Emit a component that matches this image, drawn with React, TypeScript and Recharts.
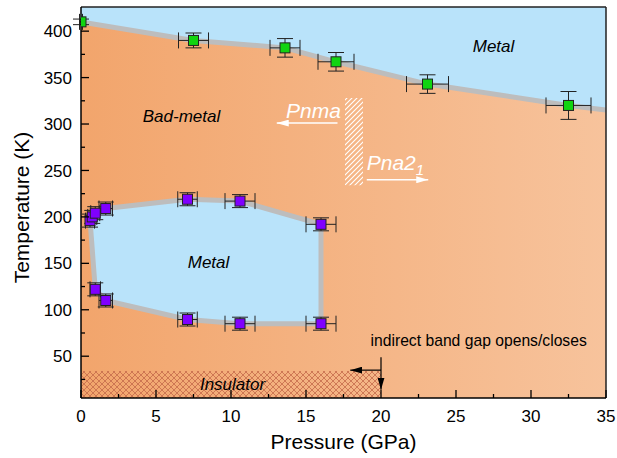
import React from 'react';
import {
  ComposedChart,
  XAxis,
  YAxis,
  Area,
  Line,
  Scatter,
  ErrorBar,
  ReferenceLine,
  ReferenceDot,
} from 'recharts';

// green squares: bad-metal / metal crossover at high T
const greenP = [0, 7.5, 13.6, 17.0, 23.1, 32.5];
const greenT = [410, 390, 382, 367, 343, 320];
const greenPErr = [0.1, 1.0, 1.0, 1.2, 1.4, 1.5];
const greenTErr = [3, 8, 10, 10, 10, 15];

// boundary band drawn through the green squares, to the right edge
const edgeP = [0, 7.5, 13.6, 17.0, 23.1, 32.5, 35];
const edgeT = [410, 390, 382, 367, 343, 320, 315];

// purple squares: low-T metallic pocket
const purpleP = [0.6, 0.75, 0.95, 1.65, 7.1, 10.6, 16.0, 16.0, 10.6, 7.1, 1.65, 0.95];
const purpleT = [196, 200, 204, 209, 219, 217, 192, 85, 85, 89.5, 110, 122];
const purplePErr = [0.3, 0.3, 0.3, 0.45, 0.65, 1.0, 1.0, 1.0, 1.0, 0.65, 0.45, 0.35];
const purpleTErr = [7, 7, 7, 7, 7, 7, 7, 7, 7, 7, 7, 7];

// outline of the pocket (closed)
const pocketP = [0.6, 0.95, 1.65, 7.1, 10.6, 16.0, 16.0, 10.6, 7.1, 1.65, 0.95, 0.6];
const pocketT = [197, 122, 110, 89.5, 85, 85, 192, 217, 219, 209, 204, 197];
// fill of the pocket as lower / upper edge
const fillP = [0.6, 0.95, 1.65, 7.1, 10.6, 16.0];
const fillLo = [197, 122, 110, 89.5, 85, 85];
const fillHi = [197, 204, 209, 219, 217, 192];

const xTicks = [0, 2.5, 5, 7.5, 10, 12.5, 15, 17.5, 20, 22.5, 25, 27.5, 30, 32.5, 35];
const yTicks = [25, 50, 75, 100, 125, 150, 175, 200, 225, 250, 275, 300, 325, 350, 375, 400];

const P_MIN = 0;
const P_MAX = 35;
const T_MIN = 5;
const T_MAX = 426;

// insulator and structural transition regions
const insulatorP = [0, 20];
const insulatorT = [T_MIN, 34];
const transP = [17.6, 18.8];
const transT = [234, 328];

const font = '"Liberation Sans", Arial, sans-serif';

const bgData = [P_MIN, P_MAX].map((p) => ({ p, r: [T_MIN, T_MAX] }));
const topMetal = edgeP.map((p, i) => ({ p, r: [edgeT[i], T_MAX] }));
const edgeData = edgeP.map((p, i) => ({ p, t: edgeT[i] }));
const pocketFill = fillP.map((p, i) => ({ p, r: [fillLo[i], fillHi[i]] }));
const pocketLine = pocketP.map((p, i) => ({ p, t: pocketT[i] }));
const insulatorData = insulatorP.map((p) => ({ p, r: insulatorT }));
const transData = transP.map((p) => ({ p, r: transT }));
const greenData = greenP.map((p, i) => ({ p, t: greenT[i], ex: greenPErr[i], ey: greenTErr[i] }));
const purpleData = purpleP.map((p, i) => ({ p, t: purpleT[i], ex: purplePErr[i], ey: purpleTErr[i] }));

const XTick = (props: any) => {
  const { x, y, payload } = props;
  const major = payload.value % 5 === 0;
  return (
    <g>
      <line x1={x} x2={x} y1={y} y2={y - (major ? 8 : 4)} stroke="#000" strokeWidth={1.3} />
      {major && (
        <text x={x} y={y + 24} textAnchor="middle" fontSize={17} fill="#000" fontFamily={font}>
          {payload.value}
        </text>
      )}
    </g>
  );
};

const YTick = (props: any) => {
  const { x, y, payload } = props;
  const major = payload.value % 50 === 0;
  return (
    <g>
      <line x1={x} x2={x + (major ? 8 : 4)} y1={y} y2={y} stroke="#000" strokeWidth={1.3} />
      {major && (
        <text x={x - 9} y={y} dy="0.36em" textAnchor="end" fontSize={17} fill="#000" fontFamily={font}>
          {payload.value}
        </text>
      )}
    </g>
  );
};

const square = (fill: string) => (props: any) => (
  <rect x={props.cx - 5} y={props.cy - 5} width={10} height={10} fill={fill} stroke="#222" strokeWidth={1} />
);

const tag = (key: string, p: number, t: number, node: React.ReactNode) => (
  <ReferenceDot
    key={key}
    x={p}
    y={t}
    r={0}
    isFront
    shape={(s: any) => (
      <g transform={`translate(${s.cx},${s.cy})`}>{node}</g>
    )}
  />
);

export default function App() {
  return (
    <div style={{ width: 617, height: 458 }}>
      <style>{'body{margin:0}'}</style>
      <svg width={0} height={0} style={{ position: 'absolute' }}>
        <defs>
          <linearGradient id="bgGrad" x1="0" y1="0" x2="1" y2="0">
            <stop offset="0%" stopColor="#f2a56c" />
            <stop offset="100%" stopColor="#f7c39c" />
          </linearGradient>
          <pattern id="xhatch" width="6" height="6" patternUnits="userSpaceOnUse">
            <path d="M0,0 L6,6 M6,0 L0,6" stroke="#c4694a" strokeWidth="0.8" />
          </pattern>
          <pattern id="stripes" width="5" height="5" patternUnits="userSpaceOnUse">
            <path d="M0,5 L5,0 M-1,1 L1,-1 M4,6 L6,4" stroke="#fff" strokeWidth="1.1" />
          </pattern>
          <marker id="arrW" viewBox="0 0 12 7" refX="12" refY="3.5" markerWidth="12" markerHeight="7" markerUnits="userSpaceOnUse" orient="auto">
            <path d="M0,0 L12,3.5 L0,7 z" fill="#fff" />
          </marker>
          <marker id="arrK" viewBox="0 0 12 7" refX="12" refY="3.5" markerWidth="12" markerHeight="7" markerUnits="userSpaceOnUse" orient="auto">
            <path d="M0,0 L12,3.5 L0,7 z" fill="#000" />
          </marker>
        </defs>
      </svg>
      <ComposedChart
        width={617}
        height={458}
        margin={{ top: 7, right: 11, bottom: 0, left: 0 }}
        style={{ fontFamily: font }}
      >
        <XAxis
          type="number"
          dataKey="p"
          domain={[P_MIN, P_MAX]}
          ticks={xTicks}
          interval={0}
          allowDataOverflow
          height={60}
          tickSize={0}
          tickMargin={0}
          tickLine={false}
          axisLine={{ stroke: '#000', strokeWidth: 1.5 }}
          tick={<XTick />}
          label={{
            content: (lp: any) => (
              <text
                x={lp.viewBox.x + lp.viewBox.width / 2}
                y={lp.viewBox.y + 51}
                textAnchor="middle"
                fontSize={21}
                fill="#000"
                fontFamily={font}
              >
                Pressure (GPa)
              </text>
            ),
          }}
        />
        <YAxis
          type="number"
          dataKey="t"
          domain={[T_MIN, T_MAX]}
          ticks={yTicks}
          interval={0}
          allowDataOverflow
          width={81}
          tickSize={0}
          tickMargin={0}
          tickLine={false}
          axisLine={{ stroke: '#000', strokeWidth: 1.5 }}
          tick={<YTick />}
          label={{
            content: (lp: any) => {
              const cx = lp.viewBox.x + 29;
              const cy = lp.viewBox.y + lp.viewBox.height / 2 + 5;
              return (
                <text
                  x={cx}
                  y={cy}
                  transform={`rotate(-90 ${cx} ${cy})`}
                  textAnchor="middle"
                  fontSize={21}
                  fill="#000"
                  fontFamily={font}
                >
                  Temperature (K)
                </text>
              );
            },
          }}
        />

        <Area data={bgData} dataKey="r" type="linear" stroke="none" fill="url(#bgGrad)" fillOpacity={1} isAnimationActive={false} />
        <Area data={topMetal} dataKey="r" type="linear" stroke="none" fill="#b9e3fa" fillOpacity={1} isAnimationActive={false} />
        <Area data={pocketFill} dataKey="r" type="linear" stroke="none" fill="#b9e3fa" fillOpacity={1} isAnimationActive={false} />
        <Area data={insulatorData} dataKey="r" type="linear" stroke="none" fill="url(#xhatch)" fillOpacity={1} isAnimationActive={false} />
        <Area data={transData} dataKey="r" type="linear" stroke="none" fill="url(#stripes)" fillOpacity={1} isAnimationActive={false} />

        <Line data={edgeData} dataKey="t" type="linear" stroke="#bdbdbd" strokeWidth={5} dot={false} activeDot={false} isAnimationActive={false} />
        <Line data={pocketLine} dataKey="t" type="linear" stroke="#bdbdbd" strokeWidth={5} strokeLinejoin="round" dot={false} activeDot={false} isAnimationActive={false} />

        <Scatter data={greenData} dataKey="t" shape={square('#11d411')} isAnimationActive={false}>
          <ErrorBar dataKey="ex" direction="x" width={8} stroke="#222" strokeWidth={1} />
          <ErrorBar dataKey="ey" direction="y" width={8} stroke="#222" strokeWidth={1} />
        </Scatter>
        <Scatter data={purpleData} dataKey="t" shape={square('#8000ff')} isAnimationActive={false}>
          <ErrorBar dataKey="ex" direction="x" width={8} stroke="#222" strokeWidth={1} />
          <ErrorBar dataKey="ey" direction="y" width={8} stroke="#222" strokeWidth={1} />
        </Scatter>

        {/* frame */}
        <ReferenceLine y={T_MAX} stroke="#222" strokeWidth={1.5} />
        <ReferenceLine x={P_MAX} stroke="#222" strokeWidth={1.5} />

        {/* arrows */}
        <ReferenceLine segment={[{ x: 17.1, y: 301 }, { x: 13.05, y: 301 }]} stroke="#fff" strokeWidth={1.5} markerEnd="url(#arrW)" />
        <ReferenceLine segment={[{ x: 19.05, y: 240 }, { x: 23.15, y: 240 }]} stroke="#fff" strokeWidth={1.5} markerEnd="url(#arrW)" />
        <ReferenceLine segment={[{ x: 20, y: 49 }, { x: 20, y: 14 }]} stroke="#000" strokeWidth={1.2} markerEnd="url(#arrK)" />
        <ReferenceLine segment={[{ x: 20, y: 35 }, { x: 17.95, y: 35 }]} stroke="#000" strokeWidth={1.2} markerEnd="url(#arrK)" />

        {tag('m1', 27.5, 378, <text textAnchor="middle" fontSize={17} fontStyle="italic" fill="#000">Metal</text>)}
        {tag('bm', 6.7, 302, <text textAnchor="middle" fontSize={17} fontStyle="italic" fill="#000">Bad-metal</text>)}
        {tag('m2', 8.5, 145, <text textAnchor="middle" fontSize={17} fontStyle="italic" fill="#000">Metal</text>)}
        {tag('ins', 10.1, 14, <text textAnchor="middle" fontSize={17} fontStyle="italic" fill="#000">Insulator</text>)}
        {tag('pnma', 15.5, 306.5, <text textAnchor="middle" fontSize={21} fontStyle="italic" fill="#fff">Pnma</text>)}
        {tag(
          'pna',
          19.05,
          250.5,
          <text textAnchor="start" fontSize={21} fontStyle="italic" fill="#fff">
            Pna2<tspan dy={5} fontSize={15}>1</tspan>
          </text>
        )}
        {tag('gap', 19.3, 61, <text textAnchor="start" fontSize={15.7} fill="#000">indirect band gap opens/closes</text>)}
      </ComposedChart>
    </div>
  );
}
